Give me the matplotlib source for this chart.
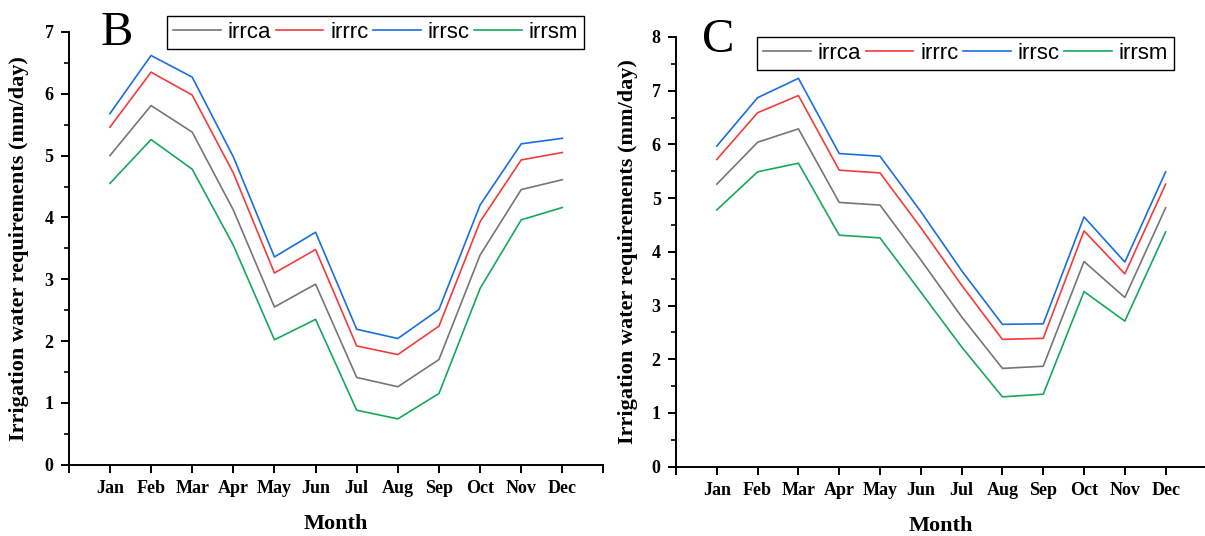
import numpy as np
import matplotlib
matplotlib.use("Agg")
import matplotlib.pyplot as plt
from matplotlib.ticker import MultipleLocator, FixedLocator

months = ["Jan", "Feb", "Mar", "Apr", "May", "Jun",
          "Jul", "Aug", "Sep", "Oct", "Nov", "Dec"]
series_names = ["irrca", "irrrc", "irrsc", "irrsm"]
colors = ["#767676", "#f23c3c", "#1a6ee0", "#16a85b"]

# panel B
b_irrca = [5.00, 5.81, 5.38, 4.12, 2.55, 2.92, 1.41, 1.26, 1.70, 3.39, 4.45, 4.61]
b_irrrc = [5.46, 6.35, 5.98, 4.72, 3.10, 3.48, 1.92, 1.78, 2.24, 3.93, 4.93, 5.05]
b_irrsc = [5.68, 6.62, 6.27, 4.98, 3.36, 3.76, 2.19, 2.04, 2.51, 4.20, 5.19, 5.28]
b_irrsm = [4.55, 5.26, 4.78, 3.55, 2.02, 2.35, 0.88, 0.74, 1.15, 2.85, 3.96, 4.16]

# panel C
c_irrca = [5.26, 6.04, 6.29, 4.92, 4.87, 3.85, 2.79, 1.83, 1.87, 3.82, 3.15, 4.82]
c_irrrc = [5.72, 6.59, 6.91, 5.52, 5.47, 4.45, 3.38, 2.37, 2.39, 4.39, 3.59, 5.26]
c_irrsc = [5.97, 6.87, 7.23, 5.83, 5.78, 4.75, 3.65, 2.65, 2.66, 4.65, 3.81, 5.49]
c_irrsm = [4.78, 5.49, 5.65, 4.31, 4.26, 3.25, 2.23, 1.30, 1.35, 3.26, 2.71, 4.37]

serif = "Liberation Serif"

fig = plt.figure(figsize=(12.05, 5.36), dpi=100)
ax_b = fig.add_axes([0.0571, 0.1332, 0.4437, 0.8071])
ax_c = fig.add_axes([0.5610, 0.1293, 0.4402, 0.8017])

x = np.arange(1, 13)


def draw_panel(ax, data, ymax, letter, letter_pos, legend_pos, ylabel_x):
    for vals, name, col in zip(data, series_names, colors):
        ax.plot(x, vals, color=col, lw=1.2, label=name)
    ax.set_xlim(0, 13)
    ax.set_ylim(0, ymax)
    for s in ["top", "right"]:
        ax.spines[s].set_visible(False)
    for s in ["left", "bottom"]:
        ax.spines[s].set_linewidth(1.4)
    ax.xaxis.set_major_locator(FixedLocator(np.arange(0, 14)))
    ax.set_xticklabels([""] + months + [""])
    ax.yaxis.set_major_locator(MultipleLocator(1))
    ax.yaxis.set_minor_locator(MultipleLocator(0.5))
    ax.tick_params(axis="both", which="major", direction="out", length=6,
                   width=1.4, pad=5)
    ax.tick_params(axis="y", which="minor", direction="out", length=3.5,
                   width=1.2)
    for lab in ax.get_xticklabels() + ax.get_yticklabels():
        lab.set_fontfamily(serif)
        lab.set_fontweight("bold")
        lab.set_fontsize(13)
    ax.set_xlabel("Month", fontfamily=serif, fontweight="bold",
                  fontsize=16, labelpad=12)
    fig.text(ylabel_x, 0.5 * (ax.get_position().y0 + ax.get_position().y1),
             "Irrigation water requirements (mm/day)", rotation=90,
             ha="center", va="center", fontfamily=serif, fontweight="bold",
             fontsize=16)
    fig.text(letter_pos[0], letter_pos[1], letter, fontfamily=serif,
             fontsize=35, ha="left", va="baseline")
    leg = ax.legend(loc="upper left", bbox_to_anchor=legend_pos,
                    bbox_transform=fig.transFigure, ncol=4, frameon=True,
                    fancybox=False, framealpha=1, edgecolor="black",
                    borderaxespad=0, handlelength=2.15, handletextpad=0.3,
                    columnspacing=0.2, borderpad=0.28,
                    prop={"family": "Liberation Sans", "size": 16})
    leg.get_frame().set_linewidth(1.0)


draw_panel(ax_b, [b_irrca, b_irrrc, b_irrsc, b_irrsm], 7, "B",
           (101 / 1205, 1 - 45 / 536), (167 / 1205, 1 - 16 / 536), 19 / 1205)
draw_panel(ax_c, [c_irrca, c_irrrc, c_irrsc, c_irrsm], 8, "C",
           (702 / 1205, 1 - 52 / 536), (757 / 1205, 1 - 37 / 536), 628 / 1205)

fig.savefig("out.png", dpi=100)
